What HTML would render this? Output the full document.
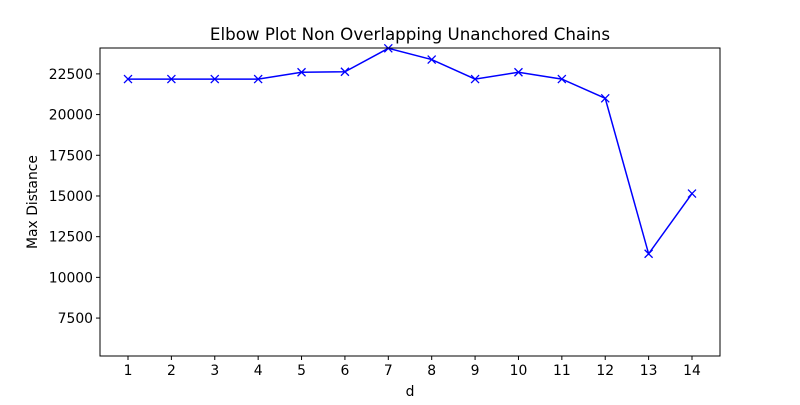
<!DOCTYPE html>
<html><head><meta charset="utf-8"><style>
body{margin:0;background:#fff;font-family:"Liberation Sans","DejaVu Sans",sans-serif}
svg text{font-family:"DejaVu Sans","Liberation Sans",sans-serif;font-size:13.9px;fill:#000}
</style></head><body>
<svg id="chart" width="800" height="400" xmlns="http://www.w3.org/2000/svg">
<rect width="800" height="400" fill="#fff"/>
<text x="410" y="40" text-anchor="middle" style="font-size:16.7px">Elbow Plot Non Overlapping Unanchored Chains</text>
<g id="axes"></g>
<rect x="100" y="48" width="620" height="308" fill="none" stroke="#000" stroke-width="1"/>
<text x="410" y="396" text-anchor="middle">d</text>
<text transform="translate(37,202) rotate(-90)" text-anchor="middle">Max Distance</text>
</svg>
<script>
const categories=[1,2,3,4,5,6,7,8,9,10,11,12,13,14];
const values=[22180,22180,22180,22180,22600,22630,24070,23380,22180,22600,22180,21000,11450,15150];
const yTicks=[7500,10000,12500,15000,17500,20000,22500];
const L=100,R=720,T=48,B=356,yMin=5170,yMax=24090;
const x=d=>128+(d-1)*(692-128)/13;
const y=v=>B-(v-yMin)/(yMax-yMin)*(B-T);
const NS="http://www.w3.org/2000/svg",g=document.getElementById('axes');
function mk(t,a){const e=document.createElementNS(NS,t);for(const k in a)e.setAttribute(k,a[k]);g.appendChild(e);return e;}
categories.forEach(c=>{
 const t=mk('line',{x1:x(c),x2:x(c),y1:B,y2:B+4,stroke:'#000'});
 
 
 const l=mk('text',{x:x(c),y:B+19,'text-anchor':'middle'});l.textContent=c;
 
 
});
yTicks.forEach(v=>{
 const t=mk('line',{x1:L-4,x2:L,y1:y(v),y2:y(v),stroke:'#000'});
 
 
 const l=mk('text',{x:L-7,y:y(v)+5,'text-anchor':'end'});l.textContent=v;
 
 
});
const line=mk('polyline',{points:categories.map((c,i)=>x(c)+','+y(values[i])).join(' '),fill:'none',stroke:'#0000ff','stroke-width':1.5});


categories.forEach((c,i)=>{
 const cx=x(c),cy=y(values[i]);
 const m=mk('path',{d:`M${cx-4},${cy-4}L${cx+4},${cy+4}M${cx-4},${cy+4}L${cx+4},${cy-4}`,stroke:'#0000ff','stroke-width':1.3});
 
 
});
</script>
</body></html>
